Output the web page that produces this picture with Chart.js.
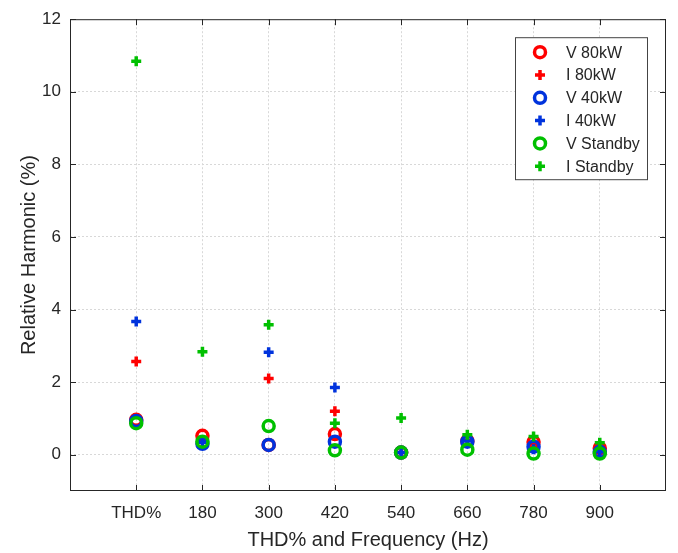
<!DOCTYPE html>
<html>
<head>
<meta charset="utf-8">
<script src="https://cdn.jsdelivr.net/npm/chart.js@4/dist/chart.umd.min.js"></script>
<style>
  html, body { margin: 0; padding: 0; background: #fff; }
  #wrap { width: 678px; height: 553px; }
</style>
</head>
<body>
<div id="wrap"><canvas id="myChart" width="678" height="553"></canvas></div>
<script>
// Harmonic spectrum at three load levels
const categories = ['THD%', '180', '300', '420', '540', '660', '780', '900']
const v80kW = [0.96, 0.52, 0.27, 0.57, 0.06, 0.38, 0.35, 0.18]
const i80kW = [2.57, 0.38, 2.10, 1.20, 0.06, 0.40, 0.30, 0.15]
const v40kW = [0.93, 0.30, 0.27, 0.36, 0.06, 0.36, 0.22, 0.08]
const i40kW = [3.67, 0.34, 2.82, 1.85, 0.06, 0.38, 0.15, 0.08]
const vStandby = [0.87, 0.36, 0.79, 0.12, 0.06, 0.14, 0.03, 0.03]
const iStandby = [10.84, 2.84, 3.58, 0.87, 1.01, 0.55, 0.50, 0.33]
const yTicks = [0, 2, 4, 6, 8, 10, 12]

const RED = '#ff0000'
const BLUE = '#0033dd'
const GREEN = '#00c000'
const INK = '#262626'
const FONT = "'Liberation Sans', Arial, sans-serif"

// turn a list of values into scatter points at category positions 1..n
const toPoints = arr => arr.map((v, i) => ({ x: i + 1, y: v }))

const series = [
  { label: 'V 80kW', data: v80kW, color: RED, style: 'circle' },
  { label: 'I 80kW', data: i80kW, color: RED, style: 'cross' },
  { label: 'V 40kW', data: v40kW, color: BLUE, style: 'circle' },
  { label: 'I 40kW', data: i40kW, color: BLUE, style: 'cross' },
  { label: 'V Standby', data: vStandby, color: GREEN, style: 'circle' },
  { label: 'I Standby', data: iStandby, color: GREEN, style: 'cross' }
]

const datasets = series.map((s, idx) => ({
  label: s.label,
  data: toPoints(s.data),
  pointStyle: s.style,
  pointRadius: s.style === 'circle' ? 5.5 : 5,
  pointBorderWidth: 3.5,
  borderColor: s.color,
  backgroundColor: 'rgba(0,0,0,0)',
  // later series are painted on top
  order: series.length - idx
}))

// box around the axes with inward tick marks, plus the legend box
const boxPlugin = {
  id: 'box',
  afterDraw (chart) {
    const { ctx, chartArea: a, scales } = chart
    ctx.save()
    ctx.strokeStyle = INK
    ctx.lineWidth = 1
    ctx.strokeRect(a.left + 0.5, a.top + 0.5, a.right - a.left - 1, a.bottom - a.top - 1)
    const tl = 6
    ctx.beginPath()
    for (let t of yTicks) {
      const y = Math.round(scales.y.getPixelForValue(t)) + 0.5
      ctx.moveTo(a.left, y); ctx.lineTo(a.left + tl, y)
      ctx.moveTo(a.right, y); ctx.lineTo(a.right - tl, y)
    }
    for (let i = 1; i <= categories.length; i++) {
      const x = Math.round(scales.x.getPixelForValue(i)) + 0.5
      ctx.moveTo(x, a.bottom); ctx.lineTo(x, a.bottom - tl)
      ctx.moveTo(x, a.top); ctx.lineTo(x, a.top + tl)
    }
    ctx.stroke()

    // legend
    const bw = 132, bh = 142
    const bx = a.right - 19 - bw, by = a.top + 18
    ctx.fillStyle = '#fff'
    ctx.fillRect(bx, by, bw, bh)
    ctx.strokeStyle = '#444'
    ctx.lineWidth = 1
    ctx.strokeRect(bx + 0.5, by + 0.5, bw, bh)
    ctx.font = '16px ' + FONT
    ctx.textBaseline = 'middle'
    ctx.textAlign = 'left'
    chart.data.datasets.forEach((ds, i) => {
      const cy = by + 15 + i * 22.8
      const cx = bx + 25
      ctx.strokeStyle = ds.borderColor
      ctx.lineWidth = ds.pointBorderWidth
      ctx.beginPath()
      if (ds.pointStyle === 'circle') {
        ctx.arc(cx, cy, ds.pointRadius, 0, Math.PI * 2)
      } else {
        ctx.moveTo(cx - 5, cy); ctx.lineTo(cx + 5, cy)
        ctx.moveTo(cx, cy - 5); ctx.lineTo(cx, cy + 5)
      }
      ctx.stroke()
      ctx.fillStyle = INK
      ctx.fillText(ds.label, bx + 51, cy + 1)
    })
    ctx.restore()
  }
}

const ctx = document.getElementById('myChart').getContext('2d')
new Chart(ctx, {
  type: 'scatter',
  data: { datasets: datasets },
  options: {
    responsive: false,
    animation: false,
    layout: { autoPadding: false, padding: { left: 0, right: 6, top: 15, bottom: 0 } },
    plugins: { legend: { display: false }, tooltip: { enabled: false } },
    scales: {
      x: {
        type: 'linear',
        min: 0,
        max: 9,
        afterBuildTicks: scale => {
          scale.ticks = [0, 1, 2, 3, 4, 5, 6, 7, 8, 9].map(v => ({ value: v }))
        },
        afterFit: scale => { scale.height = 62 },
        ticks: {
          autoSkip: false,
          maxRotation: 0,
          padding: 12,
          color: INK,
          font: { family: FONT, size: 17 },
          callback: v => categories[v - 1] || ''
        },
        grid: {
          drawTicks: false,
          color: c => (c.tick.value === 0 || c.tick.value === 9) ? 'rgba(0,0,0,0)' : '#d8d8d8'
        },
        border: { display: false, dash: [2, 2] },
        title: {
          display: true,
          text: 'THD% and Frequency (Hz)',
          color: INK,
          font: { family: FONT, size: 20, lineHeight: 1.2 },
          padding: { top: 0, bottom: 1 }
        }
      },
      y: {
        min: -1,
        max: 12,
        afterBuildTicks: scale => {
          scale.ticks = yTicks.map(v => ({ value: v }))
        },
        afterFit: scale => { scale.width = 70 },
        ticks: {
          padding: 9,
          color: INK,
          font: { family: FONT, size: 17 }
        },
        grid: {
          drawTicks: false,
          color: c => c.tick.value === 12 ? 'rgba(0,0,0,0)' : '#d8d8d8'
        },
        border: { display: false, dash: [2, 2] },
        title: {
          display: true,
          text: 'Relative Harmonic (%)',
          color: INK,
          font: { family: FONT, size: 20, lineHeight: 1.2 },
          padding: { top: 17, bottom: 0 }
        }
      }
    }
  },
  plugins: [boxPlugin]
})
</script>
</body>
</html>
